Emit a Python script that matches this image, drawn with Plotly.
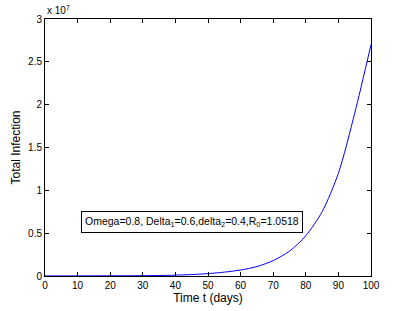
import plotly.graph_objects as go

days = [0, 5, 10, 15, 20, 25, 30, 35, 40, 45, 50, 55, 60, 65, 70, 75, 80, 85, 90, 95, 100]
total_infection = [1.0e4, 1.2e4, 1.5e4, 2.0e4, 2.5e4, 3.0e4, 4.0e4, 6.0e4, 1.0e5, 1.7e5, 2.8e5,
                   4.5e5, 7.0e5, 1.1e6, 1.8e6, 2.9e6, 4.7e6, 7.5e6, 1.2e7, 1.9e7, 2.7e7]
y_tickvals = [0, 0.5e7, 1e7, 1.5e7, 2e7, 2.5e7, 3e7]
y_ticktext = ["0", "0.5", "1", "1.5", "2", "2.5", "3"]
x_tickvals = [0, 10, 20, 30, 40, 50, 60, 70, 80, 90, 100]
label_text = "Omega=0.8, Delta<sub>1</sub>=0.6,delta<sub>2</sub>=0.4,R<sub>0</sub>=1.0518"

fig = go.Figure()
fig.add_trace(go.Scatter(x=days, y=total_infection, mode="lines",
                         line=dict(color="#0000ff", width=1, shape="spline", smoothing=0.8),
                         showlegend=False))

font = dict(family="Liberation Sans, Arial, sans-serif", color="black")
axis_common = dict(showline=True, linecolor="black", linewidth=1, mirror="ticks",
                   ticks="inside", ticklen=4, tickcolor="black", showgrid=False,
                   zeroline=False, automargin=False, tickfont=dict(size=10, **font))

fig.update_xaxes(range=[0, 100], tickvals=x_tickvals,
                 title=dict(text="Time t (days)", font=dict(size=12, **font), standoff=2),
                 **axis_common)
fig.update_yaxes(range=[0, 3e7], tickvals=y_tickvals, ticktext=y_ticktext,
                 title=dict(text="Total Infection", font=dict(size=12, **font), standoff=4),
                 **axis_common)

fig.add_annotation(x=45, y=0.625e7, xref="x", yref="y", text=label_text, showarrow=False,
                   font=dict(size=10.5, **font), bordercolor="black", borderwidth=1,
                   borderpad=3, bgcolor="white")
fig.add_annotation(x=0, y=1, xref="paper", yref="paper", text="x 10<sup>7</sup>",
                   showarrow=False, xanchor="left", yanchor="bottom", yshift=1,
                   font=dict(size=10, **font))

fig.update_layout(width=394, height=311, margin=dict(l=45, r=23, t=19, b=35, autoexpand=False),
                  plot_bgcolor="white", paper_bgcolor="white")

fig.write_html("out.html", config={"displayModeBar": False},
               post_script="document.body.style.margin='0';")
